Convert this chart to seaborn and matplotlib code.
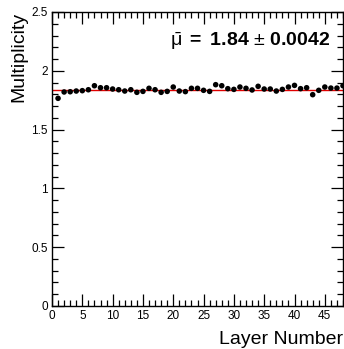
import matplotlib
matplotlib.use("Agg")
import matplotlib.pyplot as plt
from matplotlib.ticker import MultipleLocator
import numpy as np
import pandas as pd
import seaborn as sns

# Mean hit multiplicity per detector layer
layers = list(range(1, 49))
multiplicity = [
    1.766, 1.820, 1.822, 1.828, 1.831, 1.839, 1.873, 1.856, 1.856, 1.845,
    1.839, 1.828, 1.839, 1.817, 1.825, 1.851, 1.839, 1.817, 1.825, 1.862,
    1.828, 1.823, 1.851, 1.851, 1.834, 1.825, 1.882, 1.873, 1.848, 1.842,
    1.862, 1.851, 1.837, 1.868, 1.845, 1.845, 1.828, 1.842, 1.862, 1.876,
    1.848, 1.856, 1.797, 1.834, 1.862, 1.853, 1.853, 1.873,
]
fit_mean = 1.84
fit_error = 0.0042
fit_range = [0, 48]

y_ticks = [0, 0.5, 1, 1.5, 2, 2.5]
y_tick_labels = ["0", "0.5", "1", "1.5", "2", "2.5"]
x_ticks = [0, 5, 10, 15, 20, 25, 30, 35, 40, 45]

sns.set_theme(style="white")
plt.rcParams["font.family"] = ["Liberation Sans", "DejaVu Sans"]
plt.rcParams["mathtext.fontset"] = "custom"
plt.rcParams["mathtext.rm"] = "Liberation Sans"
plt.rcParams["mathtext.it"] = "Liberation Sans:italic"
plt.rcParams["mathtext.bf"] = "Liberation Sans:bold"

df = pd.DataFrame({"layer": layers, "mult": multiplicity})
fit_df = pd.DataFrame({"layer": fit_range, "mult": [fit_mean] * len(fit_range)})

W, H = 344, 349
fig = plt.figure(figsize=(W / 100, H / 100), dpi=100)
ax = fig.add_axes([52 / W, (H - 306) / H, 291 / W, 294 / H])

sns.lineplot(data=fit_df, x="layer", y="mult", ax=ax, color="#e00000",
             linewidth=1.0, zorder=2)
sns.scatterplot(data=df, x="layer", y="mult", ax=ax, color="black",
                s=16, edgecolor="none", zorder=3, clip_on=True)

ax.set_xlim(0, 48)
ax.set_ylim(0, 2.5)
ax.set_xticks(x_ticks)
ax.set_xticklabels([str(t) for t in x_ticks])
ax.set_yticks(y_ticks)
ax.set_yticklabels(y_tick_labels)
ax.xaxis.set_minor_locator(MultipleLocator(1))
ax.yaxis.set_minor_locator(MultipleLocator(0.1))
ax.tick_params(which="both", direction="in", top=True, right=True,
               bottom=True, left=True, color="black", width=0.9,
               labelsize=8.5, labelcolor="black")
ax.tick_params(which="major", length=8.5, pad=3)
ax.tick_params(which="minor", length=4.5)

for sp in ax.spines.values():
    sp.set_color("black")
    sp.set_linewidth(1.0)

ax.set_xlabel("Layer Number", loc="right", fontsize=14, color="black",
              labelpad=6)
ax.set_ylabel("Multiplicity", loc="top", fontsize=14, color="black",
              labelpad=3)

ax.text(0.955, 0.884,
        r"$\bar{\mathrm{\mu}}$ $\mathbf{=\ 1.84}$ $\pm$ $\mathbf{0.0042}$",
        transform=ax.transAxes, ha="right", va="baseline", fontsize=14,
        color="black")

fig.savefig("out.png", dpi=100, facecolor="white")
